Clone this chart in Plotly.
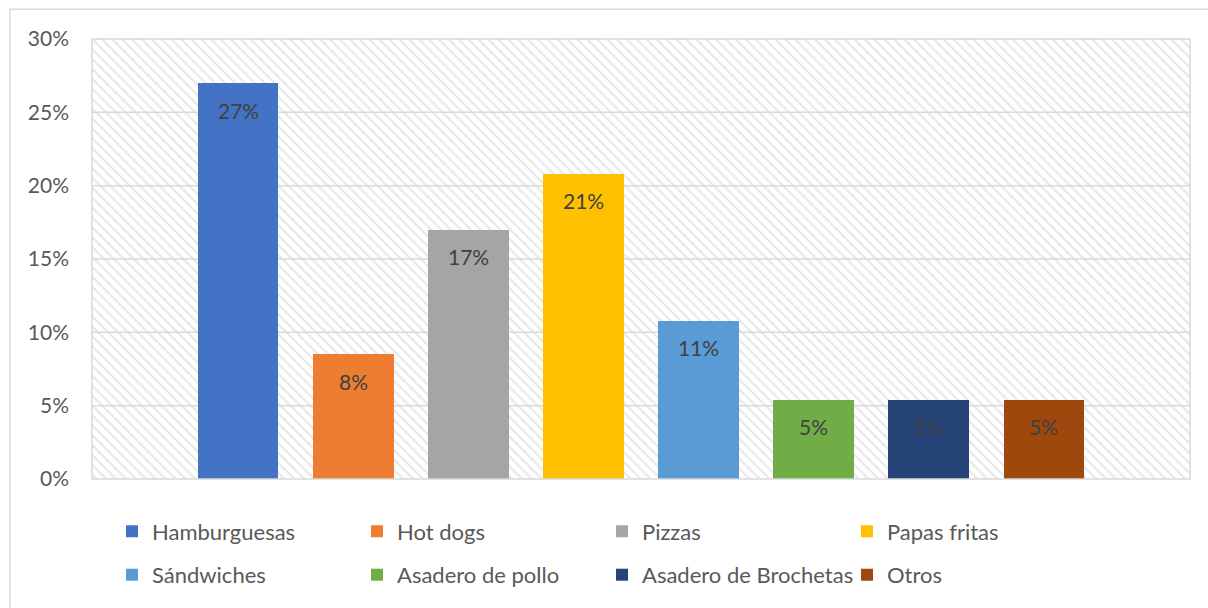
import plotly.graph_objects as go

categories = ["Hamburguesas", "Hot dogs", "Pizzas", "Papas fritas",
              "Sándwiches", "Asadero de pollo", "Asadero de Brochetas", "Otros"]
values = [0.270, 0.085, 0.170, 0.208, 0.108, 0.054, 0.054, 0.054]
labels = ["27%", "8%", "17%", "21%", "11%", "5%", "5%", "5%"]
colors = ["#4472C4", "#ED7D31", "#A5A5A5", "#FFC000",
          "#5B9BD5", "#70AD47", "#264478", "#9E480E"]
ytick_vals = [0, 0.05, 0.10, 0.15, 0.20, 0.25, 0.30]

FONT = "Lato"
W, H = 1208, 608
L, T = 92, 39
R, B = W - 1190, H - 484
pw, ph = W - L - R, H - T - B


def px_x(x):
    return (x - L) / pw


def px_y(y):
    return (T + ph - y) / ph


fig = go.Figure()

# hatched plot-area background (main subplot)
fig.add_trace(go.Bar(x=[0.5], y=[ytick_vals[-1]], width=[1], base=0,
                     marker=dict(color="white", line=dict(width=0),
                                 pattern=dict(shape="\\", fgcolor="#cfcfcf", bgcolor="white",
                                              size=7, solidity=0.3)),
                     showlegend=False, hoverinfo="skip", xaxis="x", yaxis="y"))
# gridlines above hatch, below bars
for v in ytick_vals[1:-1]:
    fig.add_trace(go.Scatter(x=[0, 1], y=[v, v], mode="lines",
                             line=dict(color="#d9d9d9", width=1.5),
                             showlegend=False, hoverinfo="skip", xaxis="x", yaxis="y"))

# data bars on overlaying subplot
for i, (c, v, col) in enumerate(zip(categories, values, colors)):
    fig.add_trace(go.Bar(x=[c], y=[v], name=c, marker=dict(color=col, line=dict(width=0)),
                         width=0.70, xaxis="x2", yaxis="y2",
                         legend="legend" if i < 4 else "legend2"))
    fig.add_annotation(x=c, y=v, xref="x2", yref="y2", text=labels[i], showarrow=False,
                       yanchor="middle", yshift=-27,
                       font=dict(family=FONT, size=21, color="#404040"))

legend_common = dict(orientation="h", xanchor="left", yanchor="middle",
                     entrywidth=200, entrywidthmode="pixels",
                     font=dict(family=FONT, size=22, color="#595959"),
                     bgcolor="rgba(0,0,0,0)")

fig.update_layout(
    width=W, height=H,
    margin=dict(l=L, r=R, t=T, b=B),
    paper_bgcolor="white", plot_bgcolor="white",
    barmode="overlay", bargap=0,
    font=dict(family=FONT, size=21, color="#595959"),
    xaxis=dict(range=[0, 1], visible=False, fixedrange=True),
    yaxis=dict(range=[0, 0.30], tickvals=ytick_vals, tickformat=".0%", showgrid=False,
               zeroline=False, showline=False, ticks="", ticklabelstandoff=22,
               tickfont=dict(family=FONT, size=21, color="#595959")),
    xaxis2=dict(overlaying="x", type="category", categoryorder="array",
                categoryarray=categories, range=[-1.27, 8.27], visible=False),
    yaxis2=dict(overlaying="y", range=[0, 0.30], visible=False),
    legend=dict(x=px_x(112), y=px_y(537), **legend_common),
    legend2=dict(x=px_x(112), y=px_y(581), **legend_common),
    shapes=[
        dict(type="rect", xref="paper", yref="paper", x0=0, x1=1, y0=0, y1=1,
             line=dict(color="#d9d9d9", width=1.5), layer="above"),
        dict(type="rect", xref="paper", yref="paper",
             x0=px_x(10), x1=px_x(1230), y0=px_y(640), y1=px_y(9),
             line=dict(color="#d9d9d9", width=1.5), layer="above"),
    ],
)

fig.write_html("out.html", config={"displayModeBar": False},
               post_script="document.body.style.margin='0';document.body.style.overflow='hidden';")
